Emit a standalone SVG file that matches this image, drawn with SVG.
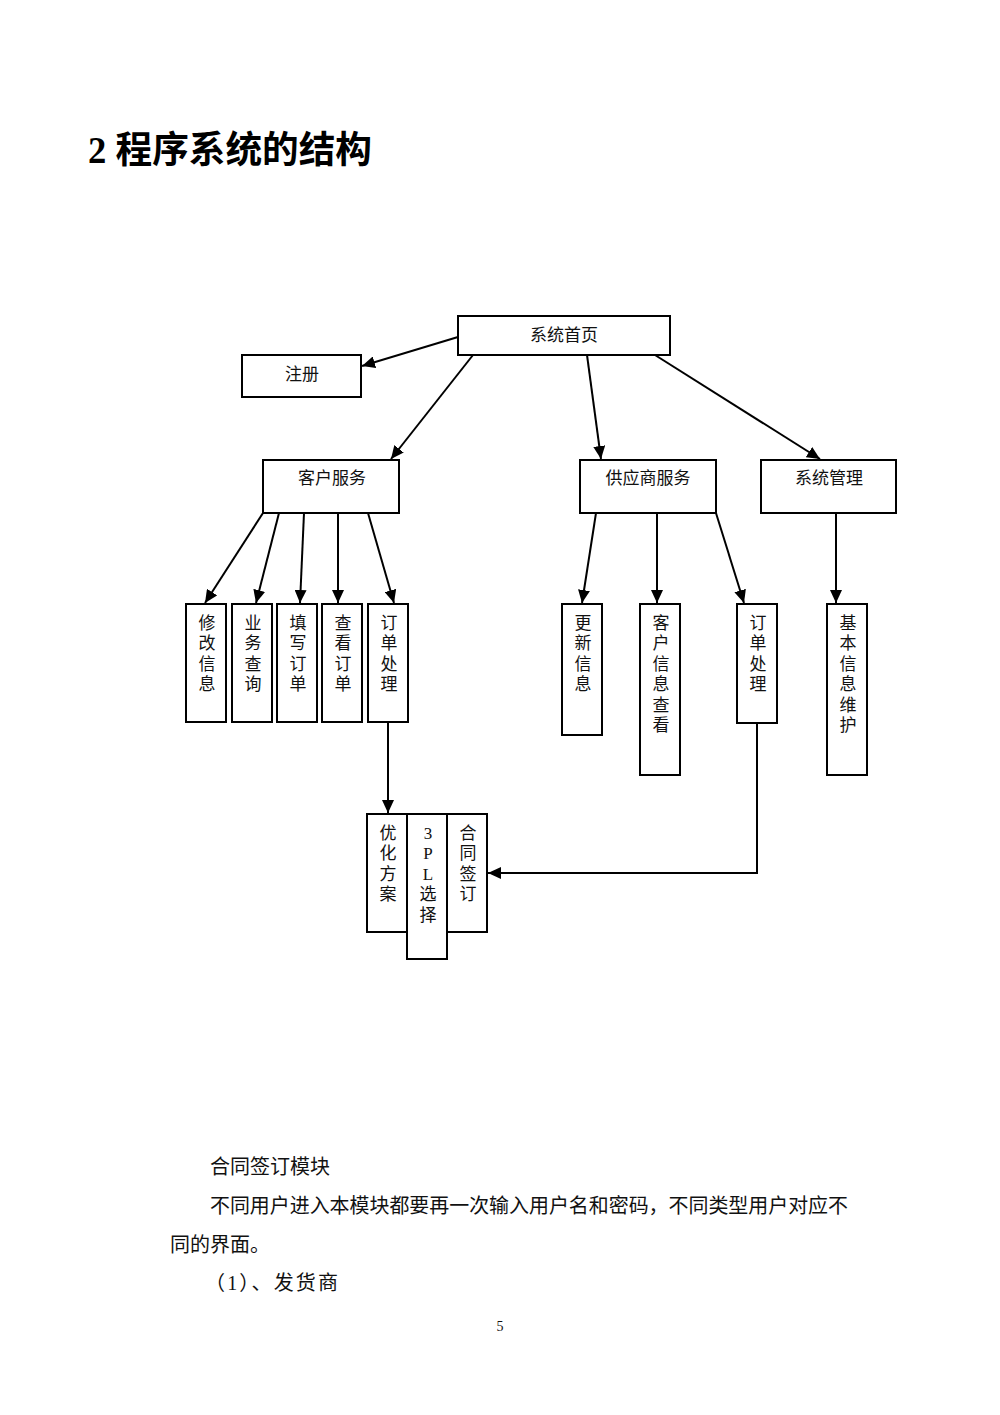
<svg xmlns="http://www.w3.org/2000/svg" width="1000" height="1415" viewBox="0 0 1000 1415">
<style>
.box{fill:#fff;stroke:#000;stroke-width:2}
.lbl{font-family:"Liberation Serif","Noto Sans CJK SC",serif;font-size:17px;fill:#111;text-anchor:middle}
.con{fill:none;stroke:#000;stroke-width:2}
.body{font-family:"Liberation Serif","Noto Sans CJK SC",serif;font-size:20px;fill:#111}
</style>
<defs>
<marker id="ah" markerUnits="userSpaceOnUse" markerWidth="14" markerHeight="12" refX="13" refY="6" orient="auto">
<path d="M0,0 L13,6 L0,12 Z" fill="#000"/>
</marker>
</defs>
<rect width="1000" height="1415" fill="#fff"/>
<text x="88" y="163" textLength="284" lengthAdjust="spacingAndGlyphs" style="font-family:'Liberation Serif','Noto Sans CJK SC',serif;font-size:37px;font-weight:bold;fill:#000">2 程序系统的结构</text>

<g id="connectors">
<line class="con" x1="458" y1="337" x2="362" y2="366" marker-end="url(#ah)"/>
<line class="con" x1="473" y1="355" x2="391" y2="459" marker-end="url(#ah)"/>
<line class="con" x1="587" y1="355" x2="601" y2="459" marker-end="url(#ah)"/>
<line class="con" x1="655" y1="355" x2="820" y2="459" marker-end="url(#ah)"/>
<line class="con" x1="263" y1="513" x2="205" y2="603" marker-end="url(#ah)"/>
<line class="con" x1="279" y1="513" x2="256" y2="603" marker-end="url(#ah)"/>
<line class="con" x1="304" y1="513" x2="300" y2="603" marker-end="url(#ah)"/>
<line class="con" x1="338" y1="513" x2="338" y2="603" marker-end="url(#ah)"/>
<line class="con" x1="368" y1="513" x2="394" y2="603" marker-end="url(#ah)"/>
<line class="con" x1="596" y1="513" x2="582" y2="603" marker-end="url(#ah)"/>
<line class="con" x1="657" y1="513" x2="657" y2="603" marker-end="url(#ah)"/>
<line class="con" x1="716" y1="513" x2="744" y2="603" marker-end="url(#ah)"/>
<line class="con" x1="836" y1="513" x2="836" y2="603" marker-end="url(#ah)"/>
<line class="con" x1="388" y1="722" x2="388" y2="813" marker-end="url(#ah)"/>
<polyline class="con" points="757,723 757,873 488,873" marker-end="url(#ah)"/>
</g>

<g id="n-home"><rect class="box" x="458" y="316" width="212" height="39"/><text class="lbl" x="564" y="341">系统首页</text></g>
<g id="n-register"><rect class="box" x="242" y="355" width="119" height="42"/><text class="lbl" x="302" y="380">注册</text></g>
<g id="n-customer"><rect class="box" x="263" y="460" width="136" height="53"/><text class="lbl" x="332" y="484">客户服务</text></g>
<g id="n-supplier"><rect class="box" x="580" y="460" width="136" height="53"/><text class="lbl" x="648" y="484">供应商服务</text></g>
<g id="n-sysmgmt"><rect class="box" x="761" y="460" width="135" height="53"/><text class="lbl" x="829" y="484">系统管理</text></g>

<g id="n-modify"><rect class="box" x="186" y="604" width="40" height="118"/>
<text class="lbl"><tspan x="207" y="629">修</tspan><tspan x="207" y="649">改</tspan><tspan x="207" y="670">信</tspan><tspan x="207" y="690">息</tspan></text></g>
<g id="n-query"><rect class="box" x="232" y="604" width="40" height="118"/>
<text class="lbl"><tspan x="253" y="629">业</tspan><tspan x="253" y="649">务</tspan><tspan x="253" y="670">查</tspan><tspan x="253" y="690">询</tspan></text></g>
<g id="n-fill"><rect class="box" x="277" y="604" width="40" height="118"/>
<text class="lbl"><tspan x="298" y="629">填</tspan><tspan x="298" y="649">写</tspan><tspan x="298" y="670">订</tspan><tspan x="298" y="690">单</tspan></text></g>
<g id="n-view"><rect class="box" x="322" y="604" width="40" height="118"/>
<text class="lbl"><tspan x="343" y="629">查</tspan><tspan x="343" y="649">看</tspan><tspan x="343" y="670">订</tspan><tspan x="343" y="690">单</tspan></text></g>
<g id="n-order1"><rect class="box" x="368" y="604" width="40" height="118"/>
<text class="lbl"><tspan x="389" y="629">订</tspan><tspan x="389" y="649">单</tspan><tspan x="389" y="670">处</tspan><tspan x="389" y="690">理</tspan></text></g>

<g id="n-update"><rect class="box" x="562" y="604" width="40" height="131"/>
<text class="lbl"><tspan x="583" y="629">更</tspan><tspan x="583" y="649">新</tspan><tspan x="583" y="670">信</tspan><tspan x="583" y="690">息</tspan></text></g>
<g id="n-custinfo"><rect class="box" x="640" y="604" width="40" height="171"/>
<text class="lbl"><tspan x="661" y="629">客</tspan><tspan x="661" y="649">户</tspan><tspan x="661" y="670">信</tspan><tspan x="661" y="690">息</tspan><tspan x="661" y="711">查</tspan><tspan x="661" y="731">看</tspan></text></g>
<g id="n-order2"><rect class="box" x="737" y="604" width="40" height="119"/>
<text class="lbl"><tspan x="758" y="629">订</tspan><tspan x="758" y="649">单</tspan><tspan x="758" y="670">处</tspan><tspan x="758" y="690">理</tspan></text></g>
<g id="n-basic"><rect class="box" x="827" y="604" width="40" height="171"/>
<text class="lbl"><tspan x="848" y="629">基</tspan><tspan x="848" y="649">本</tspan><tspan x="848" y="670">信</tspan><tspan x="848" y="690">息</tspan><tspan x="848" y="711">维</tspan><tspan x="848" y="731">护</tspan></text></g>

<g id="n-optimize"><rect class="box" x="367" y="814" width="40" height="118"/>
<text class="lbl"><tspan x="388" y="839">优</tspan><tspan x="388" y="859">化</tspan><tspan x="388" y="880">方</tspan><tspan x="388" y="900">案</tspan></text></g>
<g id="n-3pl"><rect class="box" x="407" y="814" width="40" height="145"/>
<text class="lbl"><tspan x="428" y="839">3</tspan><tspan x="428" y="859">P</tspan><tspan x="428" y="880">L</tspan><tspan x="428" y="900">选</tspan><tspan x="428" y="921">择</tspan></text></g>
<g id="n-contract"><rect class="box" x="447" y="814" width="40" height="118"/>
<text class="lbl"><tspan x="468" y="839">合</tspan><tspan x="468" y="859">同</tspan><tspan x="468" y="880">签</tspan><tspan x="468" y="900">订</tspan></text></g>

<text class="body" x="210" y="1174">合同签订模块</text>
<text class="body" x="210" y="1213" textLength="638" lengthAdjust="spacingAndGlyphs">不同用户进入本模块都要再一次输入用户名和密码，不同类型用户对应不</text>
<text class="body" x="170" y="1252">同的界面。</text>
<text class="body" x="205" y="1290" textLength="133" lengthAdjust="spacing">（1）、发货商</text>
<text x="500" y="1331" style="font-family:'Liberation Serif',serif;font-size:14px;fill:#111;text-anchor:middle">5</text>
</svg>
